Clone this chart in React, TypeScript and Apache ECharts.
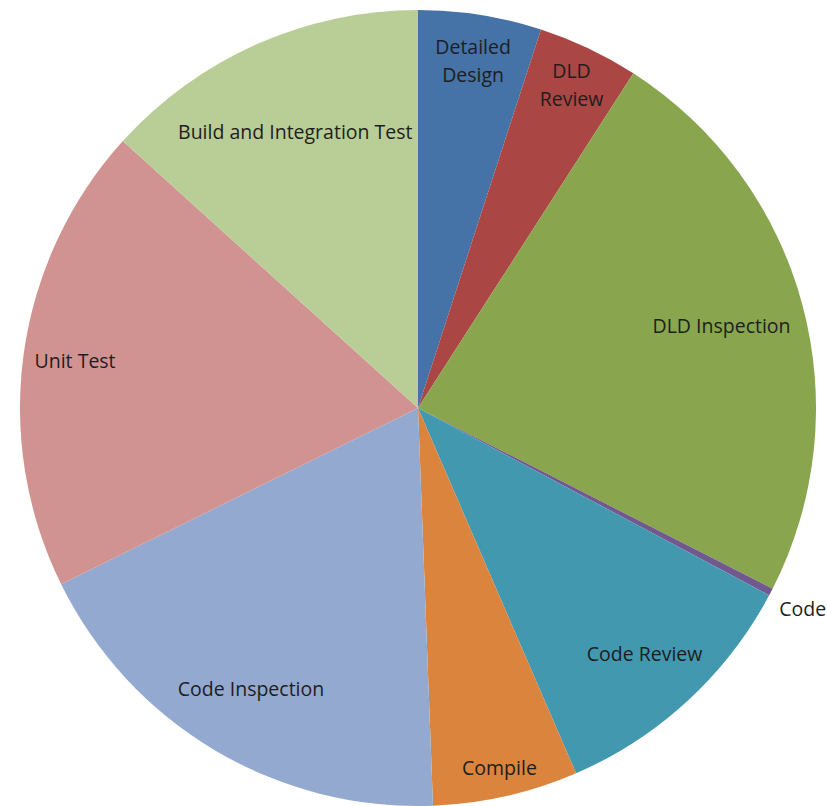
import React, { useEffect, useRef } from "react";
import * as echarts from "echarts";

const categories = [
  "Detailed Design",
  "DLD Review",
  "DLD Inspection",
  "Code",
  "Code Review",
  "Compile",
  "Code Inspection",
  "Unit Test",
  "Build and Integration Test",
];
const values = [5.0, 4.1, 23.4, 0.3, 10.7, 5.9, 18.3, 19.0, 13.3];
const labelTexts = [
  "Detailed\nDesign",
  "DLD\nReview",
  "DLD Inspection",
  "Code",
  "Code Review",
  "Compile",
  "Code Inspection",
  "Unit Test",
  "Build and Integration Test",
];

const colors = [
  "#4572A7",
  "#AA4643",
  "#89A54E",
  "#71588F",
  "#4198AF",
  "#DB843D",
  "#93A9CF",
  "#D19392",
  "#B9CD96",
];
// radial position of each label as a fraction of the pie radius
const labelRadius = [0.885, 0.9, 0.79, 1.09, 0.84, 0.925, 0.82, 0.87, 0.76];

const CX = 418;
const CY = 408;
const R = 398;

export default function App() {
  const ref = useRef<HTMLDivElement>(null);
  useEffect(() => {
    if (!ref.current) return;
    const chart = echarts.init(ref.current, undefined, { renderer: "svg" });
    const total = values.reduce((a, b) => a + b, 0);
    const mids: number[] = [];
    let acc = 0;
    values.forEach((v) => {
      mids.push(((acc + v / 2) / total) * Math.PI * 2);
      acc += v;
    });
    chart.setOption({
      animation: false,
      backgroundColor: "#ffffff",
      series: [
        {
          type: "pie",
          center: [CX, CY],
          radius: [0, R],
          startAngle: 90,
          clockwise: true,
          avoidLabelOverlap: false,
          itemStyle: { borderWidth: 0 },
          label: {
            show: true,
            position: "inside",
            color: "#1e1e1e",
            fontFamily: "Open Sans",
            fontSize: 19.5,
            lineHeight: 28,
            align: "center",
            formatter: (p: any) => labelTexts[p.dataIndex],
          },
          labelLine: { show: false },
          emphasis: { disabled: true },
          labelLayout: (params: any) => {
            const i = params.dataIndex;
            const a = mids[i];
            const rr = labelRadius[i] * R;
            return {
              x: CX + rr * Math.sin(a),
              y: CY - rr * Math.cos(a),
              align: "center",
              verticalAlign: "middle",
            };
          },
          data: categories.map((c, i) => ({
            name: c,
            value: values[i],
            itemStyle: { color: colors[i] },
          })),
        },
      ],
    });
    return () => chart.dispose();
  }, []);
  return (
    <div
      ref={ref}
      style={{ position: "fixed", left: 0, top: 0, width: 827, height: 806 }}
    />
  );
}
